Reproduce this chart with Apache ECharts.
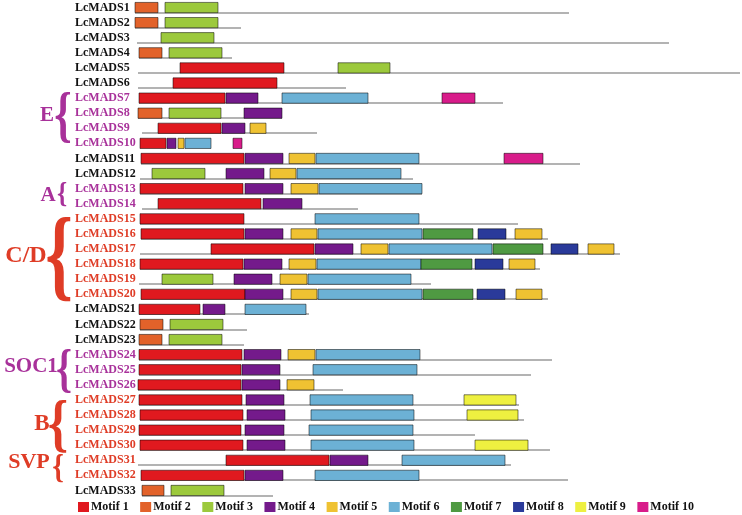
<!DOCTYPE html>
<html><head><meta charset="utf-8">
<script src="https://cdn.jsdelivr.net/npm/echarts@6/dist/echarts.min.js"></script>
<style>html,body{margin:0;padding:0;background:#fff}#chart{width:742px;height:515px}</style>
</head><body><div id="chart"></div>
<script>
// ---- data ----
const genes = ['LcMADS1','LcMADS2','LcMADS3','LcMADS4','LcMADS5','LcMADS6','LcMADS7','LcMADS8','LcMADS9','LcMADS10',
  'LcMADS11','LcMADS12','LcMADS13','LcMADS14','LcMADS15','LcMADS16','LcMADS17','LcMADS18','LcMADS19','LcMADS20',
  'LcMADS21','LcMADS22','LcMADS23','LcMADS24','LcMADS25','LcMADS26','LcMADS27','LcMADS28','LcMADS29','LcMADS30',
  'LcMADS31','LcMADS32','LcMADS33'];
// protein span per gene [start, end] (null = no backbone drawn)
const geneSpan = [[0,434],[0,106],[2,534],[4,97],[3,605],[3,211],[4,368],[3,147],[7,182],null,
  [6,445],[5,278],[5,287],[7,223],[5,383],[6,413],[5,485],[5,405],[4,296],[6,413],
  [4,174],[5,112],[4,109],[4,417],[4,396],[3,208],[4,384],[5,389],[4,340],[5,415],
  [3,376],[6,433],[7,138]];
const motifNames = ['Motif 1','Motif 2','Motif 3','Motif 4','Motif 5','Motif 6','Motif 7','Motif 8','Motif 9','Motif 10'];
// each entry: [gene number, start, end]
const motif1 = [[5,45,149],[6,38,142],[7,4,90],[9,23,86],[10,5,31],[11,6,109],[13,5,108],[14,23,126],[15,5,109],[16,6,109],
  [17,76,179],[18,5,108],[20,6,110],[21,4,65],[24,4,107],[25,4,106],[26,3,106],[27,4,107],[28,5,108],[29,4,106],
  [30,5,108],[31,91,194],[32,6,109]];
const motif2 = [[1,0,23],[2,0,23],[4,4,27],[8,3,27],[22,5,28],[23,4,27],[33,7,29]];
const motif3 = [[1,30,83],[2,30,83],[3,26,79],[4,34,87],[5,203,255],[8,34,86],[12,17,70],[19,27,78],[22,35,88],[23,34,87],[33,36,89]];
const motif4 = [[7,91,123],[8,109,147],[9,87,110],[10,32,41],[11,110,148],[12,91,129],[13,110,148],[14,128,167],[16,110,148],
  [17,180,218],[18,109,147],[19,99,137],[20,110,148],[21,68,90],[24,109,146],[25,107,145],[26,107,145],[27,111,149],
  [28,112,150],[29,110,149],[30,112,150],[31,195,233],[32,110,148]];
const motif5 = [[9,115,131],[10,43,49],[11,154,180],[12,135,161],[13,156,183],[16,156,182],[16,380,407],[17,226,253],[17,453,479],
  [18,154,181],[18,374,400],[19,145,172],[20,156,182],[20,381,407],[24,153,180],[26,152,179]];
const motif6 = [[7,147,233],[10,50,76],[11,181,284],[12,162,266],[13,184,287],[15,180,284],[16,183,287],[17,254,357],[18,182,286],
  [19,173,276],[20,183,287],[21,110,171],[24,181,285],[25,178,282],[27,175,278],[28,176,279],[29,174,278],[30,176,279],
  [31,267,370],[32,180,284]];
const motif7 = [[16,288,338],[17,358,408],[18,286,337],[20,288,338]];
const motif8 = [[16,343,371],[17,416,443],[18,340,368],[20,342,370]];
const motif9 = [[27,329,381],[28,332,383],[30,340,393]];
const motif10 = [[7,307,340],[10,98,107],[11,369,408]];
const motifs = [motif1,motif2,motif3,motif4,motif5,motif6,motif7,motif8,motif9,motif10];

// ---- styles ----
const motifColors = ['#e0191f','#e2622a','#9cc93c','#741a8b','#efc232','#6cb1d5','#4f9a42','#2a3a9a','#eef040','#d81c8a'];
const PURPLE = '#a8319a', RED = '#df3c26';
const purpleGenes = [7,8,9,10,13,14,24,25,26];
const redGenes = [15,16,17,18,19,20,27,28,29,30,31,32];
const SERIF = '"Liberation Serif", "Times New Roman", serif';

function boxRender(color){
  return function(params, api){
    const row = api.value(2);
    const s = api.coord([api.value(0), row]);
    const e = api.coord([api.value(1), row]);
    const h = api.size([0, 1])[1] * 0.68;
    return {type:'rect', shape:{x:s[0], y:s[1]-h/2, width:e[0]-s[0], height:h},
      style:{fill:color, stroke:'rgba(0,0,0,0.5)', lineWidth:1}};
  };
}
function lineRender(params, api){
  const row = api.value(2);
  const s = api.coord([api.value(0), row]);
  const e = api.coord([api.value(1), row]);
  const h = api.size([0, 1])[1] * 0.68;
  const y = Math.round(s[1] + h/2) ;
  return {type:'line', shape:{x1:s[0], y1:y, x2:e[0], y2:y}, style:{stroke:'#9a9a9a', lineWidth:1.5}};
}

const series = [{
  type:'custom', name:'backbone', renderItem: lineRender, z:1, silent:true,
  encode:{x:[0,1], y:2},
  data: geneSpan.map((sp,i)=> sp ? [sp[0], sp[1], i] : null).filter(d=>d)
}];
motifs.forEach((m, k) => {
  series.push({
    type:'custom', name: motifNames[k], renderItem: boxRender(motifColors[k]), z:2,
    itemStyle:{color: motifColors[k]},
    encode:{x:[0,1], y:2},
    data: m.map(([g,s,e]) => [s, e, g-1])
  });
});

function brace(cx, y1, y2, w, color){
  const fs = 40;
  const sy = (y2 - y1) / (0.875 * fs);
  const sx = w / (0.27 * fs);
  return {type:'text', x:cx, y:(y1+y2)/2 + 0.055*fs*sy, scaleX:sx, scaleY:sy, silent:true,
    style:{text:'{', font:'bold 40px ' + SERIF, fill:color, align:'center', verticalAlign:'middle'}};
}
function groupLabel(text, cx, cy, size, color){
  return {type:'text', x:cx, y:cy, silent:true,
    style:{text:text, font:'bold '+size+'px '+SERIF, fill:color, align:'center', verticalAlign:'middle'}};
}

const chart = echarts.init(document.getElementById('chart'));
chart.setOption({
  animation:false,
  backgroundColor:'#fff',
  grid:{left:135, right:0, top:0, bottom:17},
  xAxis:{type:'value', min:0, max:607, show:false},
  yAxis:{type:'category', data:genes, inverse:true,
    axisLine:{show:false}, axisTick:{show:false}, splitLine:{show:false},
    axisLabel:{interval:0, margin:60, align:'left', fontFamily:SERIF, fontWeight:'bold', fontSize:12,
      padding:[4,0,0,0],
      color:(v, i) => { const n = i + 1; return purpleGenes.includes(n) ? PURPLE : (redGenes.includes(n) ? RED : '#111'); }}},
  legend:{data:motifNames, left:73, top:496, icon:'rect', itemWidth:11, itemHeight:10, itemGap:11.5,
    selectedMode:false,
    textStyle:{fontFamily:SERIF, fontWeight:'bold', fontSize:12, color:'#111', padding:[0,0,0,-3]}},
  graphic:[
    groupLabel('E', 47, 116, 21, PURPLE), brace(63, 89, 143, 12, PURPLE),
    groupLabel('A', 48, 196, 21, PURPLE), brace(62, 181, 207, 7, PURPLE),
    groupLabel('C/D', 26, 256, 24, RED), brace(59, 213, 301, 19, RED),
    groupLabel('SOC1', 31, 367, 21, PURPLE), brace(64, 347, 393, 11, PURPLE),
    groupLabel('B', 42, 424, 23, RED), brace(58, 397, 452, 14, RED),
    groupLabel('SVP', 29, 462, 22, RED), brace(58, 453, 482, 8, RED)
  ],
  series: series
});
</script></body></html>
